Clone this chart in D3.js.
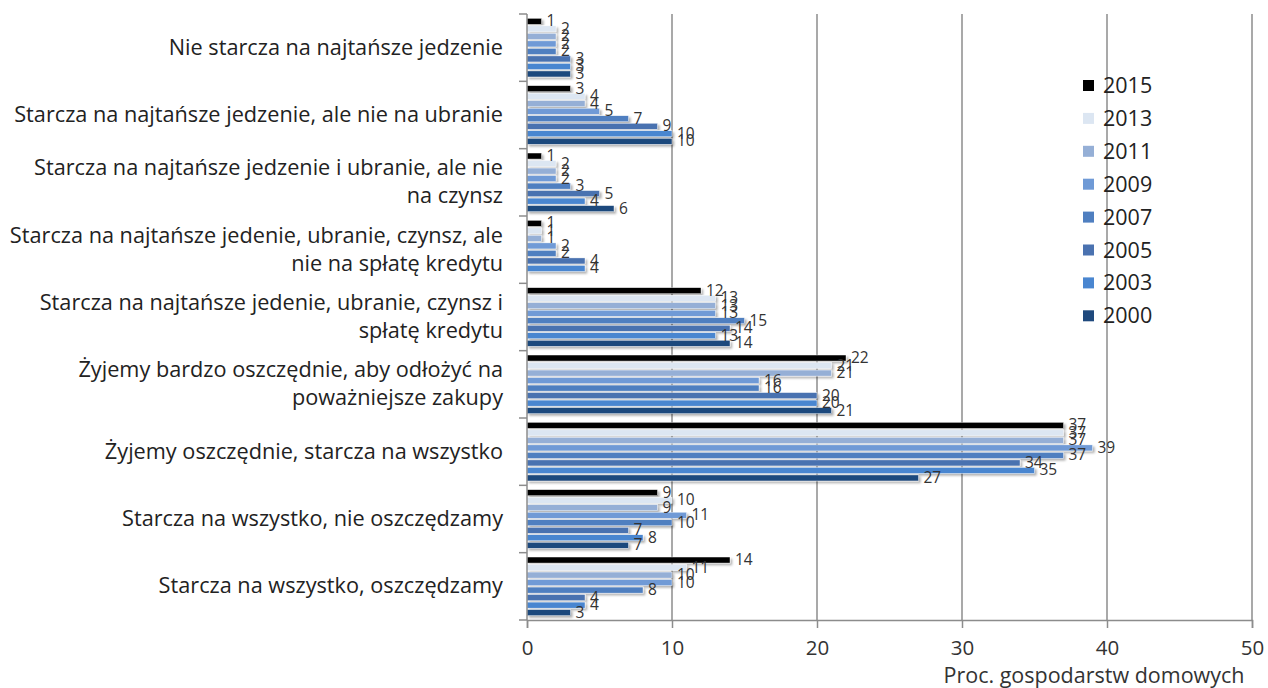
<!DOCTYPE html>
<html>
<head>
<meta charset="utf-8">
<script src="https://cdn.jsdelivr.net/npm/d3@7"></script>
<style>
  body { margin: 0; background: #fff; }
  text { font-family: "Open Sans", Lato, sans-serif; }
</style>
</head>
<body>
<div id="chart"></div>
<script>
// categories (line breaks as in the original)
var categories = [
  "Nie starcza na najtańsze jedzenie",
  "Starcza na najtańsze jedzenie, ale nie na ubranie",
  "Starcza na najtańsze jedzenie i ubranie, ale nie\nna czynsz",
  "Starcza na najtańsze jedenie, ubranie, czynsz, ale\nnie na spłatę kredytu",
  "Starcza na najtańsze jedenie, ubranie, czynsz i\nspłatę kredytu",
  "Żyjemy bardzo oszczędnie, aby odłożyć na\npoważniejsze zakupy",
  "Żyjemy oszczędnie, starcza na wszystko",
  "Starcza na wszystko, nie oszczędzamy",
  "Starcza na wszystko, oszczędzamy"
];

var years = ["2015", "2013", "2011", "2009", "2007", "2005", "2003", "2000"];

// values per year, in category order
var v2015 = [1, 3, 1, 1, 12, 22, 37, 9, 14];
var v2013 = [2, 4, 2, 1, 13, 21, 37, 10, 11];
var v2011 = [2, 4, 2, 1, 13, 21, 37, 9, 10];
var v2009 = [2, 5, 2, 2, 13, 16, 39, 11, 10];
var v2007 = [2, 7, 3, 2, 15, 16, 37, 10, 8];
var v2005 = [3, 9, 5, 4, 14, 20, 34, 7, 4];
var v2003 = [3, 10, 4, 4, 13, 20, 35, 8, 4];
var v2000 = [3, 10, 6, null, 14, 21, 27, 7, 3];

var xTicks = [0, 10, 20, 30, 40, 50];
var axisTitle = "Proc. gospodarstw domowych";

var colors = ["#000000", "#dce6f2", "#95afd6", "#6f9ad6", "#4f7fc0", "#4a72b0", "#4a86d0", "#1f497d"];

var series = [v2015, v2013, v2011, v2009, v2007, v2005, v2003, v2000];

var W = 1268, H = 688;
var margin = {top: 14, right: 16, bottom: 68, left: 527};

var svg = d3.select("#chart")
  .append("svg")
    .attr("width", W)
    .attr("height", H);

var defs = svg.append("defs");
var f = defs.append("filter").attr("id", "shadow")
  .attr("x", "-5%").attr("y", "-50%").attr("width", "120%").attr("height", "250%");
f.append("feDropShadow")
  .attr("dx", 2).attr("dy", 2).attr("stdDeviation", 1.2)
  .attr("flood-color", "#000").attr("flood-opacity", 0.3);

var x = d3.scaleLinear()
  .domain([0, 50])
  .range([margin.left, 1252]);

var y0 = d3.scaleBand()
  .domain(categories)
  .range([margin.top, 620]);

var y1 = d3.scaleBand()
  .domain(years)
  .range([0, y0.bandwidth()])
  .paddingInner(0.2)
  .paddingOuter(0.58);

// grid lines
svg.append("g")
  .selectAll("line")
  .data(xTicks.slice(1))
  .enter()
  .append("line")
    .attr("x1", function (d) { return x(d); })
    .attr("x2", function (d) { return x(d); })
    .attr("y1", margin.top)
    .attr("y2", 620)
    .style("stroke", "#8c8c8c")
    .style("stroke-width", 1.5);

// bars
var rows = [];
categories.forEach(function (c, i) {
  years.forEach(function (yr, j) {
    if (series[j][i] != null) rows.push({cat: c, year: yr, value: series[j][i], color: colors[j]});
  });
});

svg.append("g")
  .attr("filter", "url(#shadow)")
  .selectAll("rect")
  .data(rows)
  .enter()
  .append("rect")
    .attr("x", x(0))
    .attr("y", function (d) { return y0(d.cat) + y1(d.year); })
    .attr("width", function (d) { return x(d.value) - x(0); })
    .attr("height", y1.bandwidth())
    .style("fill", function (d) { return d.color; })
    .style("stroke", "#ffffff")
    .style("stroke-width", 0.4);

// value labels
svg.append("g")
  .selectAll("text")
  .data(rows)
  .enter()
  .append("text")
    .attr("x", function (d) { return x(d.value) + 5; })
    .attr("y", function (d) { return y0(d.cat) + y1(d.year) + y1.bandwidth() / 2 + 5; })
    .style("font-size", "15.5px")
    .style("fill", "#333")
    .text(function (d) { return d.value; });

// left axis line and ticks at category boundaries
svg.append("line")
  .attr("x1", x(0)).attr("x2", x(0))
  .attr("y1", margin.top).attr("y2", 620)
  .style("stroke", "#8c8c8c").style("stroke-width", 1.5);

var bounds = categories.map(function (c) { return y0(c); }).concat([y0.range()[1]]);
svg.append("g")
  .selectAll("line")
  .data(bounds)
  .enter()
  .append("line")
    .attr("x1", x(0) - 8).attr("x2", x(0))
    .attr("y1", function (d) { return d; })
    .attr("y2", function (d) { return d; })
    .style("stroke", "#8c8c8c").style("stroke-width", 1.5);

// category labels
var catG = svg.append("g");
categories.forEach(function (c) {
  var lines = c.split("\n");
  var cy = y0(c) + y0.bandwidth() / 2;
  var t = catG.append("text")
    .attr("text-anchor", "end")
    .style("font-size", "21.7px")
    .style("fill", "#222");
  lines.forEach(function (ln, k) {
    t.append("tspan")
      .attr("x", 503)
      .attr("y", cy + 7 + (k - (lines.length - 1) / 2) * 28)
      .text(ln);
  });
});

// bottom axis
var xAxis = svg.append("g")
  .attr("transform", "translate(0,620)")
  .call(d3.axisBottom(x).tickValues(xTicks).tickSize(8).tickPadding(12));
xAxis.select(".domain").style("stroke", "#8c8c8c").style("stroke-width", 1.5);
xAxis.selectAll(".tick line").style("stroke", "#8c8c8c").style("stroke-width", 1.5);
xAxis.selectAll(".tick text")
  .style("font-family", "'Open Sans', sans-serif")
  .style("font-size", "20.5px")
  .style("fill", "#333");

svg.append("text")
  .attr("x", 1094)
  .attr("y", 683)
  .attr("text-anchor", "middle")
  .style("font-size", "21.5px")
  .style("fill", "#333")
  .text(axisTitle);

// legend
var legend = svg.append("g")
  .selectAll("g")
  .data(years)
  .enter()
  .append("g")
    .attr("transform", function (d, i) { return "translate(1083," + (80 + i * 32.9) + ")"; });

legend.append("rect")
  .attr("width", 11).attr("height", 11)
  .style("fill", function (d, i) { return colors[i]; });

legend.append("text")
  .attr("x", 20)
  .attr("y", 13)
  .style("font-size", "21.5px")
  .style("fill", "#222")
  .text(function (d) { return d; });
</script>
</body>
</html>
